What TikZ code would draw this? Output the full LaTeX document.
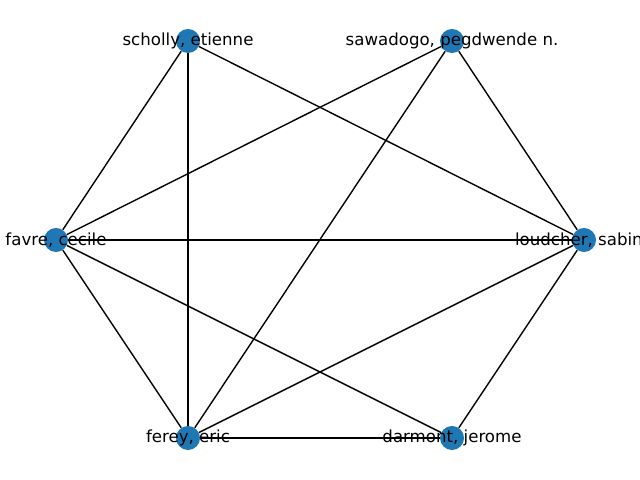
\documentclass[tikz,border=0pt]{standalone}
\usepackage{fontspec}
\setmainfont{DejaVu Sans}
\usetikzlibrary{positioning}
\definecolor{nodeblue}{HTML}{1F77B4}

\begin{document}
\begin{tikzpicture}[x=0.01in, y=-0.01in,
    vertex/.style={circle, fill=nodeblue, minimum size=0.24in, inner sep=0pt},
    name text/.style={inner sep=0pt, font=\fontsize{12}{14}\selectfont},
    edge/.style={line width=1pt, black}]

    \path[use as bounding box] (0,0) rectangle (640,480);
    \clip (0,0) rectangle (640,480);

    % the nodes
    \node[vertex] (scholly) at (188,41) {};
    \node[vertex] (sawadogo) at (452,41) {};
    \node[vertex] (favre) at (56,240) {};
    \node[vertex] (loudcher) at (584,240) {};
    \node[vertex] (ferey) at (188,438) {};
    \node[vertex] (darmont) at (452,438) {};

    % the edges
    \foreach \a/\b in {scholly/favre, scholly/ferey, scholly/loudcher,
                       sawadogo/favre, sawadogo/ferey, sawadogo/loudcher,
                       favre/loudcher, favre/ferey, favre/darmont,
                       loudcher/ferey, loudcher/darmont, ferey/darmont} {
        \path[draw, edge] (\a) -- (\b);
    }

    % the labels
    \node[name text] (scholly-text) at (scholly) {scholly, etienne};
    \node[name text] (sawadogo-text) at (sawadogo) {sawadogo, pegdwende n.};
    \node[name text] (favre-text) at (favre) {favre, cecile};
    \node[name text] (loudcher-text) at (loudcher) {loudcher, sabine};
    \node[name text] (ferey-text) at (ferey) {ferey, eric};
    \node[name text] (darmont-text) at (darmont) {darmont, jerome};

\end{tikzpicture}
\end{document}
